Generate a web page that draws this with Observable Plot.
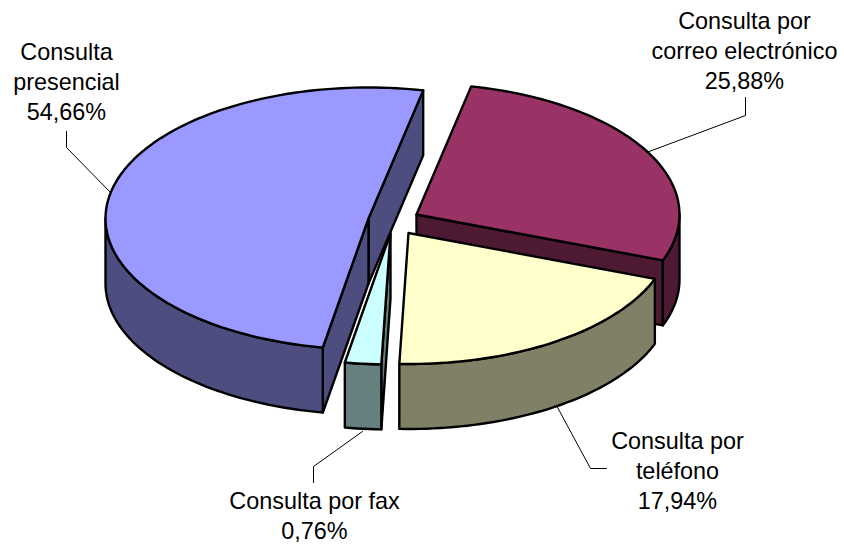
<!DOCTYPE html>
<html>
<head>
<meta charset="utf-8">
<style>html,body{margin:0;padding:0;background:#fff}svg{display:block}</style>
<script src="https://cdn.jsdelivr.net/npm/d3@7"></script>
<script src="https://cdn.jsdelivr.net/npm/@observablehq/plot@0.6"></script>
</head>
<body>
<script>
// Data
const categories = ["Consulta por correo electrónico", "Consulta por teléfono", "Consulta por fax", "Consulta presencial"];
const shares = ["25,88%", "17,94%", "0,76%", "54,66%"];
// Sweep of each slice as drawn in the 3-D picture, degrees
const drawnSweep = [98.5, 71.5, 8, 182];
const firstAngle = -78;

// Style and layout
const topColors = ["#993366", "#FFFFCC", "#CCFFFF", "#9999FF"];
const sideColors = ["#4D1933", "#808066", "#668080", "#4D4D80"];
const apex = [[416, 214], [408, 232.5], [390, 233], [368, 218]];
const rx = 263, ry = 131, depth = 65;
const labelLines = [
  ["Consulta por", "correo electrónico"],
  ["Consulta por", "teléfono"],
  ["Consulta por fax"],
  ["Consulta", "presencial"]
];
const labelAnchor = [[744, 49], [677, 469], [314, 514], [66, 80]];
const leaders = [
  [[745, 97], [745, 115], [646, 152]],
  [[606, 468], [590, 468], [556, 405]],
  [[313, 482], [313, 466], [362, 431]],
  [[66, 131], [66, 147], [110, 192]]
];

const rad = d => d * Math.PI / 180;
const rim = (i, t, dz = 0) => ({x: apex[i][0] + rx * Math.cos(rad(t)), y: apex[i][1] + ry * Math.sin(rad(t)) + dz});
const arc = (i, a, b, dz = 0) => {
  const n = Math.max(2, Math.ceil(Math.abs(b - a) / 1.5));
  return d3.range(n + 1).map(k => rim(i, a + (b - a) * k / n, dz));
};
const close = p => [...p, p[0]];
const hub = (i, dz = 0) => ({x: apex[i][0], y: apex[i][1] + dz});

let s = firstAngle;
const bounds = drawnSweep.map(d => { const r = [s, s + d]; s += d; return r; });

function polygon(points, fill) {
  return Plot.line(close(points), {x: "x", y: "y", fill, stroke: "#000", strokeWidth: 2.4, strokeLinejoin: "round", curve: "linear"});
}

function slice(i) {
  const [a, b] = bounds[i];
  const marks = [];
  // cut walls, only those facing the viewer
  if (Math.cos(rad(b)) > 0) marks.push(polygon([rim(i, b), rim(i, b, depth), hub(i, depth), hub(i)], sideColors[i]));
  if (Math.cos(rad(a)) < 0) marks.push(polygon([rim(i, a), rim(i, a, depth), hub(i, depth), hub(i)], sideColors[i]));
  // outer wall: only the part of the rim facing the viewer
  const f0 = Math.max(a, 0), f1 = Math.min(b, 180);
  if (f1 > f0) {
    marks.push(polygon([...arc(i, f0, f1), ...arc(i, f1, f0, depth)], sideColors[i]));
  }
  // top
  marks.push(polygon([hub(i), ...arc(i, a, b)], topColors[i]));
  return marks;
}

const textData = categories.map((c, i) => ({
  text: [...labelLines[i], shares[i]].join("\n"),
  x: labelAnchor[i][0],
  y: labelAnchor[i][1]
}));

const chart = Plot.plot({
  width: 844,
  height: 546,
  margin: 0,
  x: {domain: [0, 844], range: [0, 844], axis: null},
  y: {domain: [0, 546], range: [0, 546], axis: null},
  style: {background: "#fff"},
  marks: [
    ...slice(0),
    ...slice(1),
    ...slice(2),
    ...slice(3),
    ...leaders.map(l => Plot.line(l, {x: d => d[0], y: d => d[1], stroke: "#000", strokeWidth: 1, curve: "linear"})),
    Plot.text(textData, {
      x: "x", y: "y", text: "text",
      fontFamily: "Liberation Sans", fontSize: 23.4, lineHeight: 1.27,
      textAnchor: "middle", fill: "#000"
    })
  ]
});
document.body.appendChild(chart);
</script>
</body>
</html>
